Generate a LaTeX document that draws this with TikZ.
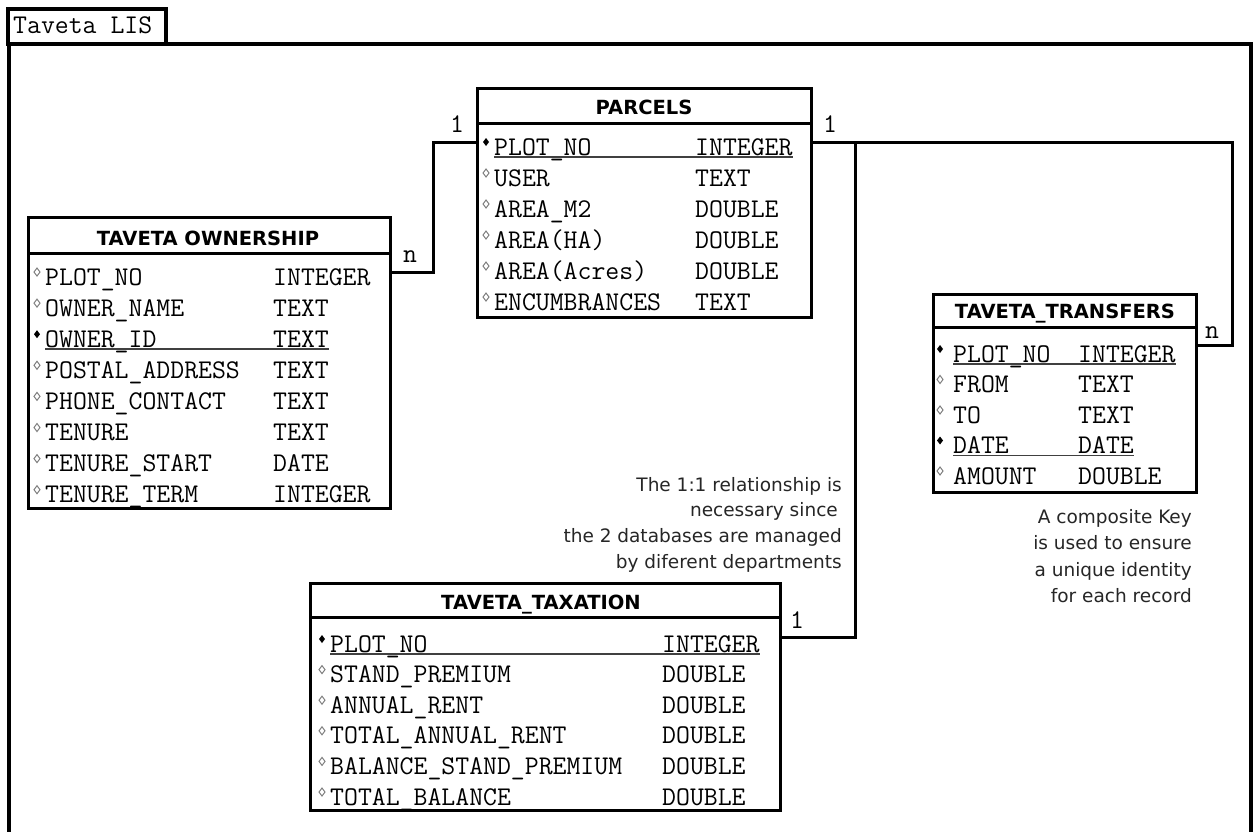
\documentclass[tikz,border=0pt]{standalone}
\usepackage{fontspec}
\newfontfamily\hdfont{DejaVu Sans}
\newfontfamily\notefont{DejaVu Sans}
\begin{document}
\begin{tikzpicture}[x=1pt,y=-1pt,
  tbl/.style={draw, line width=3pt, outer sep=0pt, inner sep=0pt, anchor=north west},
  sepline/.style={line width=3pt},
  framestyle/.style={line width=4pt},
  hdr/.style={font={\hdfont\bfseries\fontsize{19.5}{23}\selectfont}, inner sep=0pt, anchor=base},
  fld/.style={font={\ttfamily\fontsize{27}{31}\selectfont}, inner sep=0pt, anchor=base west},
  card/.style={font={\ttfamily\fontsize{27}{31}\selectfont}, inner sep=0pt, anchor=base},
  conn/.style={line width=3pt},
  note/.style={font={\notefont\fontsize{18.5}{26}\selectfont}, inner sep=0pt, anchor=base east, text=black!85},
  pkline/.style={line width=1.5pt, black!75},
  hollow/.style={line width=1pt, black!50},
  pkmark/.style={fill=black}]
\useasboundingbox (0,0) rectangle (1253,831);
\clip (0,0) rectangle (1253,831);
\fill[white] (0,0) rectangle (1253,831);

% outer frame and tab
\draw[framestyle] (9,870) -- (9,44) -- (1250.5,44) -- (1250.5,870);
\node[tbl, line width=3.5pt, minimum width=158pt, minimum height=35pt] (tab) at (8,9) {};
\node[fld] (tabtext) at (13,33) {Taveta LIS};

% PARCELS
\foreach \nm/\ty/\k [count=\i from 0] in {PLOT\_NO/INTEGER/1, USER/TEXT/0, AREA\_M2/DOUBLE/0, AREA(HA)/DOUBLE/0, AREA(Acres)/DOUBLE/0, ENCUMBRANCES/TEXT/0}{
  \pgfmathsetmacro\yy{148+31*\i}
  \node[fld] (p-n\i) at (494,\yy+7) {\nm};
  \node[fld] (p-t\i) at (695,\yy+7) {\ty};
  \ifnum\k=1
    \fill[pkmark] (486,\yy-10) -- ++(3,4) -- ++(-3,4) -- ++(-3,-4) -- cycle;
    \draw[pkline] ([yshift=-2pt]p-n\i.base west) -- ([yshift=-2pt]p-t\i.base east);
  \else
    \draw[hollow] (486,\yy-10) -- ++(3,4) -- ++(-3,4) -- ++(-3,-4) -- cycle;
  \fi
}
\node[tbl, minimum width=334pt, minimum height=229pt] (parcels) at (477,88) {};
\draw[sepline] ([yshift=-35pt]parcels.north west) -- ([yshift=-35pt]parcels.north east);
\node[hdr] (parcels-h) at (644,114) {PARCELS};

% TAVETA OWNERSHIP
\foreach \nm/\ty/\k [count=\i from 0] in {PLOT\_NO/INTEGER/0, OWNER\_NAME/TEXT/0, OWNER\_ID/TEXT/1, POSTAL\_ADDRESS/TEXT/0, PHONE\_CONTACT/TEXT/0, TENURE/TEXT/0, TENURE\_START/DATE/0, TENURE\_TERM/INTEGER/0}{
  \pgfmathsetmacro\yy{278+31.1*\i}
  \node[fld] (o-n\i) at (45,\yy+7) {\nm};
  \node[fld] (o-t\i) at (273,\yy+7) {\ty};
  \ifnum\k=1
    \fill[pkmark] (37,\yy-10) -- ++(3,4) -- ++(-3,4) -- ++(-3,-4) -- cycle;
    \draw[pkline] ([yshift=-2pt]o-n\i.base west) -- ([yshift=-2pt]o-t\i.base east);
  \else
    \draw[hollow] (37,\yy-10) -- ++(3,4) -- ++(-3,4) -- ++(-3,-4) -- cycle;
  \fi
}
\node[tbl, minimum width=362pt, minimum height=291pt] (own) at (28,217) {};
\draw[sepline] ([yshift=-36pt]own.north west) -- ([yshift=-36pt]own.north east);
\node[hdr] (own-h) at (208,245) {TAVETA OWNERSHIP};

% TAVETA_TRANSFERS
\foreach \nm/\ty/\k [count=\i from 0] in {PLOT\_NO/INTEGER/1, FROM/TEXT/0, TO/TEXT/0, DATE/DATE/1, AMOUNT/DOUBLE/0}{
  \pgfmathsetmacro\yy{355+30.5*\i}
  \node[fld] (r-n\i) at (953,\yy+7) {\nm};
  \node[fld] (r-t\i) at (1078,\yy+7) {\ty};
  \ifnum\k=1
    \fill[pkmark] (940,\yy-10) -- ++(3,4) -- ++(-3,4) -- ++(-3,-4) -- cycle;
    \draw[pkline] ([yshift=-2pt]r-n\i.base west) -- ([yshift=-2pt]r-t\i.base east);
  \else
    \draw[hollow] (940,\yy-10) -- ++(3,4) -- ++(-3,4) -- ++(-3,-4) -- cycle;
  \fi
}
\node[tbl, minimum width=263pt, minimum height=198pt] (trans) at (933,294) {};
\draw[sepline] ([yshift=-33pt]trans.north west) -- ([yshift=-33pt]trans.north east);
\node[hdr] (trans-h) at (1065,318.5) {TAVETA\_TRANSFERS};

% TAVETA_TAXATION
\foreach \nm/\ty/\k [count=\i from 0] in {PLOT\_NO/INTEGER/1, STAND\_PREMIUM/DOUBLE/0, ANNUAL\_RENT/DOUBLE/0, TOTAL\_ANNUAL\_RENT/DOUBLE/0, BALANCE\_STAND\_PREMIUM/DOUBLE/0, TOTAL\_BALANCE/DOUBLE/0}{
  \pgfmathsetmacro\yy{645+30.6*\i}
  \node[fld] (x-n\i) at (330,\yy+7) {\nm};
  \node[fld] (x-t\i) at (662,\yy+7) {\ty};
  \ifnum\k=1
    \fill[pkmark] (322,\yy-10) -- ++(3,4) -- ++(-3,4) -- ++(-3,-4) -- cycle;
    \draw[pkline] ([yshift=-2pt]x-n\i.base west) -- ([yshift=-2pt]x-t\i.base east);
  \else
    \draw[hollow] (322,\yy-10) -- ++(3,4) -- ++(-3,4) -- ++(-3,-4) -- cycle;
  \fi
}
\node[tbl, minimum width=470pt, minimum height=227pt] (tax) at (310,583) {};
\draw[sepline] ([yshift=-34pt]tax.north west) -- ([yshift=-34pt]tax.north east);
\node[hdr] (tax-h) at (541,609.5) {TAVETA\_TAXATION};

% connectors
\draw[conn] ([yshift=-54pt]parcels.north west) -- ++(-44,0) |- ([yshift=-55pt]own.north east);
\draw[conn] ([yshift=-54pt]parcels.north east) -| ([xshift=36pt,yshift=-51pt]trans.north east) -- ([yshift=-51pt]trans.north east);
\draw[conn] ([yshift=-54pt]parcels.north east) -- ++(44,0) |- ([yshift=-54pt]tax.north east);

% cardinalities
\node[card] (c1) at (457,132) {1};
\node[card] (c2) at (410,262) {n};
\node[card] (c3) at (830,132) {1};
\node[card] (c4) at (1212,338) {n};
\node[card] (c5) at (797,628) {1};

% notes
\node[note] (n1a) at (842,491) {The 1:1 relationship is};
\node[note] (n1b) at (838,516.5) {necessary since};
\node[note] (n1c) at (842,542.5) {the 2 databases are managed};
\node[note] (n1d) at (842,568.5) {by diferent departments};
\node[note] (n2a) at (1192,523) {A composite Key};
\node[note] (n2b) at (1192,549.5) {is used to ensure};
\node[note] (n2c) at (1192,576.5) {a unique identity};
\node[note] (n2d) at (1192,602.5) {for each record};
\end{tikzpicture}
\end{document}
